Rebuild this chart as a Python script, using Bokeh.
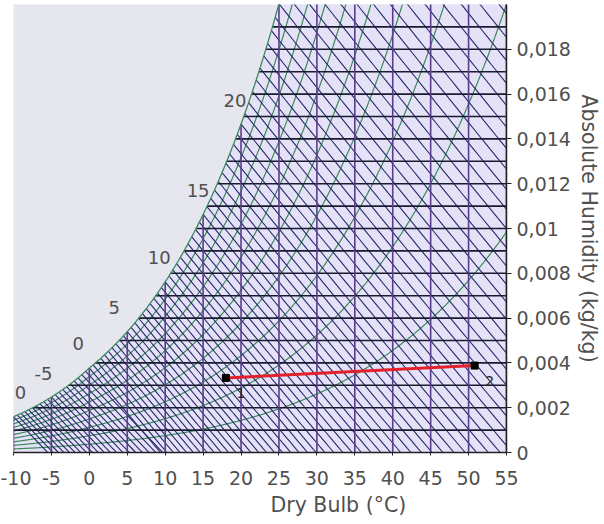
import numpy as np
from bokeh.plotting import figure
from bokeh.models import Range1d, FixedTicker, CustomJSTickFormatter, Title, ColumnDataSource
from bokeh.core.properties import value
from bokeh.embed import file_html
from bokeh.resources import INLINE

# ---------------- data ----------------
P_ATM = 101.325  # kPa
t_range = [-10, 55]
w_range = [0.0, 0.020]

x_ticks = [-10, -5, 0, 5, 10, 15, 20, 25, 30, 35, 40, 45, 50, 55]
x_tick_labels = ["-10", "-5", "0", "5", "10", "15", "20", "25", "30", "35", "40", "45", "50", "55"]
y_ticks = [0.0, 0.002, 0.004, 0.006, 0.008, 0.010, 0.012, 0.014, 0.016, 0.018]
y_tick_labels = ["0", "0,002", "0,004", "0,006", "0,008", "0,01", "0,012", "0,014", "0,016", "0,018"]

dry_bulb_lines = [-10, -5, 0, 5, 10, 15, 20, 25, 30, 35, 40, 45, 50, 55]
humidity_lines = [0.001, 0.002, 0.003, 0.004, 0.005, 0.006, 0.007, 0.008, 0.009, 0.010,
                  0.011, 0.012, 0.013, 0.014, 0.015, 0.016, 0.017, 0.018, 0.019]
rh_levels = [0.1, 0.2, 0.3, 0.4, 0.5, 0.6, 0.7, 0.8, 0.9]
wet_bulb_lines = [-10, -9.5, -9, -8.5, -8, -7.5, -7, -6.5, -6, -5.5, -5, -4.5, -4, -3.5,
                  -3, -2.5, -2, -1.5, -1, -0.5, 0, 0.5, 1, 1.5, 2, 2.5, 3, 3.5, 4, 4.5,
                  5, 5.5, 6, 6.5, 7, 7.5, 8, 8.5, 9, 9.5, 10, 10.5, 11, 11.5, 12, 12.5,
                  13, 13.5, 14, 14.5, 15, 15.5, 16, 16.5, 17, 17.5, 18, 18.5, 19, 19.5,
                  20, 20.5, 21, 21.5, 22, 22.5, 23, 23.5, 24, 24.5, 25, 25.5, 26, 26.5,
                  27, 27.5, 28, 28.5, 29, 29.5, 30, 30.5, 31, 31.5, 32]
wet_bulb_labels = [-10, -5, 0, 5, 10, 15, 20]

process_t = [18.0, 50.8]
process_w = [0.00333, 0.00388]
process_names = ["1", "2"]

FONT = "DejaVu Sans"
TXT = "#505050"
LABEL_DX = [-2, -8, -11, -13, -6, -5, -6]   # text nudges (px) for the wet-bulb labels

# ---------------- psychrometrics ----------------
def psat(t):
    t = np.asarray(t, dtype=float)
    water = 0.61094 * np.exp(17.625 * t / (t + 243.04))
    ice = 0.61115 * np.exp(22.452 * t / (272.55 + t))
    return np.where(t >= 0, water, ice)

def w_of_pv(pv):
    return 0.622 * pv / (P_ATM - pv)

def w_sat(t):
    return w_of_pv(psat(t))

def w_wetbulb(t, twb):
    ws = w_sat(twb)
    if twb >= 0:
        return ((2501 - 2.326 * twb) * ws - 1.006 * (t - twb)) / (2501 + 1.86 * t - 4.186 * twb)
    return ((2830 - 0.24 * twb) * ws - 1.006 * (t - twb)) / (2830 + 1.86 * t - 2.1 * twb)

t_fine = np.linspace(t_range[0], t_range[1] + 5, 1400)
ws_fine = w_sat(t_fine)

def t_dew(w):
    return float(np.interp(w, ws_fine, t_fine))

# ---------------- figure ----------------
p = figure(width=604, height=522, output_backend="svg", toolbar_location=None,
           x_range=Range1d(*t_range), y_range=Range1d(*w_range),
           y_axis_location="right", min_border_left=13, min_border_right=98,
           min_border_top=4, min_border_bottom=70)
p.background_fill_color = "#e6e6ee"
p.border_fill_color = "white"
p.outline_line_color = None
p.grid.visible = False

# region below saturation
mask = t_fine <= t_range[1]
sat_clip = np.minimum(ws_fine[mask], w_range[1] + 0.001)
fill_x = np.concatenate([t_fine[mask], [t_range[1], t_range[0]]])
fill_y = np.concatenate([sat_clip, [w_range[0], w_range[0]]])
p.patch(fill_x, fill_y, fill_color="#e5e2f7", line_color=None)

# relative humidity curves
rh_xs, rh_ys = [], []
for phi in rh_levels:
    rh_xs.append(t_fine[mask])
    rh_ys.append(np.minimum(w_of_pv(phi * psat(t_fine[mask])), w_range[1] + 0.002))
p.multi_line(rh_xs, rh_ys, line_color="#3a8a58", line_width=1.2)

# wet bulb lines
wb_xs, wb_ys = [], []
for twb in wet_bulb_lines:
    tt = np.linspace(twb, t_range[1] + 10, 200)
    ww = np.array([w_wetbulb(t, twb) for t in tt])
    t0 = float(np.interp(0.0, ww[::-1], tt[::-1]))
    t_end = min(t_range[1], t0)
    tt = np.linspace(twb, t_end, 40)
    ww = np.array([w_wetbulb(t, twb) for t in tt])
    wb_xs.append(tt)
    wb_ys.append(ww)
p.multi_line(wb_xs, wb_ys, line_color="#27296c", line_width=1.1)

# constant humidity lines
h_xs = [[t_dew(w), t_range[1]] for w in humidity_lines]
h_ys = [[w, w] for w in humidity_lines]
p.multi_line(h_xs, h_ys, line_color="#1b1b30", line_width=1.6)

# constant dry bulb lines
v_xs = [[t, t] for t in dry_bulb_lines]
v_ys = [[w_range[0], float(w_sat(t))] for t in dry_bulb_lines]
p.multi_line(v_xs, v_ys, line_color="#5a3c8c", line_width=1.6)

# saturation curve
p.line(t_fine[mask], ws_fine[mask], line_color="#3a8a5c", line_width=1.3)

# wet bulb labels along saturation
lab_src = ColumnDataSource(dict(x=wet_bulb_labels, y=[float(w_sat(t)) for t in wet_bulb_labels],
                                text=[str(t) for t in wet_bulb_labels], dx=LABEL_DX))
p.text(x="x", y="y", text="text", source=lab_src, x_offset="dx", y_offset=-24,
       text_align="center", text_baseline="middle", text_font=value(FONT),
       text_font_size="18px", text_color=TXT)

# process line
p.line(process_t, process_w, line_color="#e3202c", line_width=3)
p.scatter(process_t, process_w, marker="square", size=7, fill_color="black", line_color="black")
p.text(x=process_t, y=process_w, text=process_names, x_offset=15, y_offset=15,
       text_align="center", text_baseline="middle", text_font=value(FONT),
       text_font_size="14px", text_color="#222222")

# axes
xa = p.xaxis[0]
xa.ticker = FixedTicker(ticks=x_ticks)
xa.formatter = CustomJSTickFormatter(args=dict(vals=x_ticks, labs=x_tick_labels), code="""
for (let i = 0; i < vals.length; i++) { if (Math.abs(tick - vals[i]) < 1e-6) return labs[i]; }
return '';""")
ya = p.yaxis[0]
ya.ticker = FixedTicker(ticks=y_ticks)
ya.formatter = CustomJSTickFormatter(args=dict(vals=y_ticks, labs=y_tick_labels), code="""
for (let i = 0; i < vals.length; i++) { if (Math.abs(tick - vals[i]) < 1e-9) return labs[i]; }
return '';""")
for ax in (xa, ya):
    ax.axis_line_color = "#222222"
    ax.axis_line_width = 1.5
    ax.major_tick_line_color = "#222222"
    ax.major_tick_in = 0
    ax.minor_tick_line_color = None
    ax.major_label_text_font = FONT
    ax.major_label_text_font_size = "19px"
    ax.major_label_text_color = TXT
xa.major_tick_out = 3
xa.major_label_standoff = 15
ya.major_tick_out = 5
ya.major_label_standoff = 5
ya.axis_label = "Absolute Humidity (kg/kg)"
ya.axis_label_text_font = FONT
ya.axis_label_text_font_size = "20.5px"
ya.axis_label_text_font_style = "normal"
ya.axis_label_text_color = TXT
ya.axis_label_standoff = 3

p.add_layout(Title(text="Dry Bulb (°C)", align="left", offset=257, standoff=6,
                   text_font=FONT, text_font_size="20.5px", text_font_style="normal",
                   text_color=TXT), "below")

open("out.html", "w").write(file_html(p, INLINE))
